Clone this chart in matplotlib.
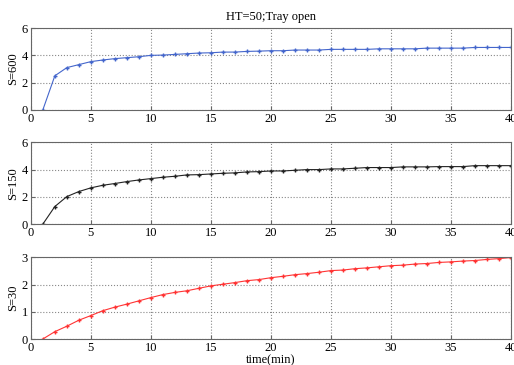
import matplotlib.pyplot as plt

plt.rcParams['font.family'] = ['Liberation Serif', 'DejaVu Serif']
plt.rcParams['font.size'] = 9

t = list(range(1, 41))

s600 = [0, 2.5, 3.1, 3.32, 3.54, 3.66, 3.76, 3.83, 3.9, 4.0,
        4.02, 4.07, 4.12, 4.17, 4.19, 4.24, 4.24, 4.29, 4.31, 4.34,
        4.34, 4.39, 4.39, 4.39, 4.44, 4.44, 4.44, 4.44, 4.48, 4.48,
        4.48, 4.48, 4.53, 4.53, 4.53, 4.53, 4.58, 4.58, 4.58, 4.58]

s150 = [0, 1.29, 2.02, 2.39, 2.66, 2.85, 2.98, 3.12, 3.24, 3.34,
        3.44, 3.51, 3.61, 3.63, 3.68, 3.73, 3.76, 3.83, 3.85, 3.9,
        3.9, 3.95, 4.0, 4.0, 4.05, 4.05, 4.1, 4.15, 4.15, 4.15,
        4.2, 4.2, 4.2, 4.22, 4.22, 4.22, 4.29, 4.29, 4.29, 4.29]

s30 = [0, 0.27, 0.47, 0.69, 0.86, 1.04, 1.17, 1.28, 1.4, 1.52,
       1.63, 1.71, 1.77, 1.86, 1.95, 2.01, 2.07, 2.14, 2.18, 2.25,
       2.3, 2.36, 2.4, 2.45, 2.51, 2.53, 2.58, 2.61, 2.65, 2.69,
       2.71, 2.75, 2.77, 2.81, 2.83, 2.86, 2.88, 2.92, 2.95, 2.99]

fig = plt.figure(figsize=(5.14, 3.65), dpi=100)

rows = [
    (s600, 'S=600', '#4466cc', 6, [0, 2, 4, 6], 0.699),
    (s150, 'S=150', '#222222', 6, [0, 2, 4, 6], 0.386),
    (s30, 'S=30', '#ff3333', 3, [0, 1, 2, 3], 0.0712),
]

axes = []
for vals, lab, col, ymax, yt, bot in rows:
    ax = fig.add_axes([0.060, bot, 0.934, 0.224])
    ax.plot(t, vals, color=col, lw=0.8, marker='+', ms=3, mew=1.0)
    ax.set_xlim(0, 40)
    ax.set_ylim(0, ymax)
    ax.set_xticks(range(0, 41, 5))
    ax.set_yticks(yt)
    ax.set_ylabel(lab, labelpad=2)
    ax.grid(True, linestyle=':', color='#888888', lw=0.8)
    ax.tick_params(direction='in', length=3, color='#666666', pad=2)
    for sp in ax.spines.values():
        sp.set_color('#666666')
    axes.append(ax)

axes[0].set_title('HT=50;Tray open', fontsize=9, pad=6)
axes[2].set_xlabel('time(min)', labelpad=0)

fig.savefig('out.png', dpi=100)
